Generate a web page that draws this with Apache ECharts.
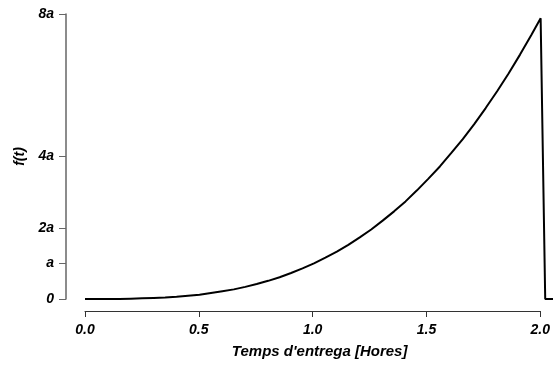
<!DOCTYPE html>
<html>
<head>
<meta charset="utf-8">
<style>
  html, body { margin: 0; padding: 0; background: #fff; }
  #chart { width: 553px; height: 365px; }
</style>
<script src="https://cdn.jsdelivr.net/npm/echarts@6/dist/echarts.min.js"></script>
</head>
<body>
<div id="chart"></div>
<script>
// delivery time in hours
const tValues = [0, 0.05, 0.1, 0.15, 0.2, 0.25, 0.3, 0.35, 0.4, 0.45, 0.5, 0.55, 0.6, 0.65, 0.7, 0.75,
  0.8, 0.85, 0.9, 0.95, 1.0, 1.05, 1.1, 1.15, 1.2, 1.25, 1.3, 1.35, 1.4, 1.45, 1.5, 1.55, 1.6, 1.65,
  1.7, 1.75, 1.8, 1.85, 1.9, 1.95, 1.99, 2.01, 2.1]
// f(t) in units of a
const fValues = [0, 0, 0, 0, 0.01, 0.02, 0.03, 0.04, 0.06, 0.09, 0.12, 0.17, 0.22, 0.27, 0.34, 0.42,
  0.51, 0.61, 0.73, 0.86, 1.0, 1.16, 1.33, 1.52, 1.73, 1.95, 2.2, 2.46, 2.74, 3.05, 3.38, 3.72, 4.1, 4.49,
  4.91, 5.36, 5.83, 6.33, 6.86, 7.42, 7.88, 0, 0]

const xTicks = [0, 0.5, 1.0, 1.5, 2.0]
const yTicks = [0, 1, 2, 4, 8]
const yTickLabels = ['0', 'a', '2a', '4a', '8a']

const font = {
  fontFamily: 'Liberation Sans, Arial, sans-serif',
  fontWeight: 'bold',
  fontStyle: 'italic',
  fontSize: 14,
  color: '#000',
}

const chart = echarts.init(document.getElementById('chart'), null, { renderer: 'canvas' })

chart.setOption({
  animation: false,
  backgroundColor: '#fff',
  // grid 0 holds the curve (runs past t = 2 to the right edge), grid 1 only carries the x axis
  grid: [
    { left: 85, right: 0, top: 14, bottom: 66, containLabel: false },
    { left: 85, right: 10, top: 14, bottom: 66, containLabel: false },
  ],
  xAxis: [{
    gridIndex: 0,
    type: 'value',
    min: 0,
    max: 2.044,
    show: false,
  }, {
    gridIndex: 1,
    type: 'value',
    min: 0,
    max: 2,
    offset: 12,
    name: "Temps d'entrega [Hores]",
    nameLocation: 'middle',
    nameGap: 33,
    nameTextStyle: { ...font, fontSize: 15, padding: [0, 0, 0, 14] },
    axisLine: { show: true, onZero: false, lineStyle: { color: '#333', width: 1 } },
    axisTick: { show: true, length: 6, customValues: xTicks, lineStyle: { color: '#333' } },
    axisLabel: {
      ...font,
      margin: 12,
      customValues: xTicks,
      formatter: v => v.toFixed(1),
    },
    splitLine: { show: false },
  }],
  yAxis: [{
    gridIndex: 0,
    type: 'value',
    min: 0,
    max: 8,
    offset: 19,
    name: 'f(t)',
    nameLocation: 'middle',
    nameGap: 37,
    nameTextStyle: font,
    axisLine: { show: true, onZero: false, lineStyle: { color: '#666', width: 1.5 } },
    axisTick: { show: true, length: 7, customValues: yTicks, lineStyle: { color: '#666' } },
    axisLabel: {
      ...font,
      margin: 12,
      customValues: yTicks,
      formatter: v => yTickLabels[yTicks.indexOf(v)],
    },
    splitLine: { show: false },
  }, {
    gridIndex: 1,
    type: 'value',
    min: 0,
    max: 8,
    show: false,
  }],
  series: [{
    type: 'line',
    xAxisIndex: 0,
    yAxisIndex: 0,
    data: tValues.map((t, i) => [t, fValues[i]]),
    symbol: 'none',
    clip: false,
    lineStyle: { color: '#000', width: 2 },
  }],
})
</script>
</body>
</html>
